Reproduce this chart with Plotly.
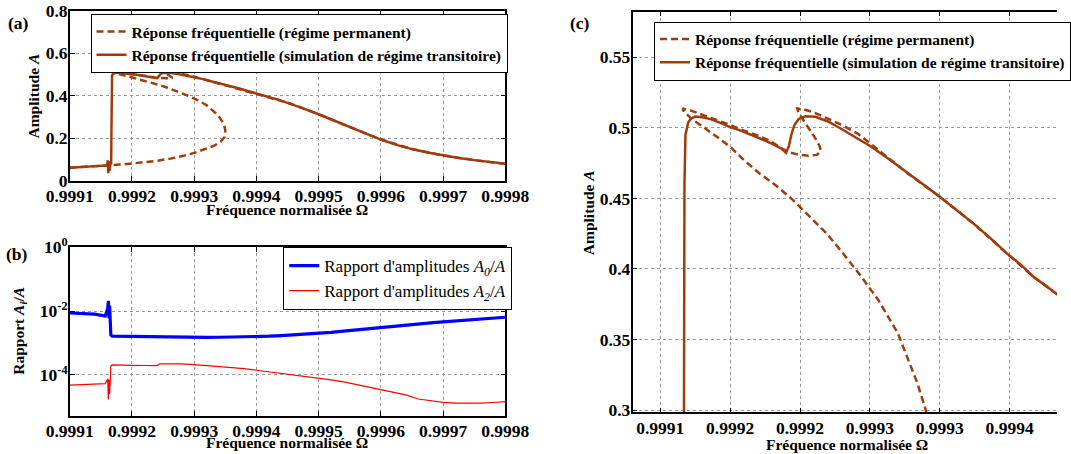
import plotly.graph_objects as go

# ---------------- data ----------------
# transient-simulation frequency response (solid)
omega_trans = [0.999100, 0.999120, 0.999140, 0.999155, 0.999160, 0.999161, 0.999162, 0.999163,
               0.999164, 0.999165, 0.9991665, 0.999167, 0.9991673, 0.999168, 0.999170, 0.999172,
               0.999175, 0.999180, 0.999186, 0.999193, 0.999200, 0.999208, 0.999216, 0.999225,
               0.999232, 0.999237, 0.999240, 0.999242, 0.999244, 0.999246, 0.999249, 0.999254,
               0.999261, 0.999270, 0.999280, 0.999290, 0.999301, 0.999314, 0.999327, 0.999338,
               0.999350, 0.999362, 0.999374, 0.999386, 0.999398, 0.999408, 0.999417, 0.999426,
               0.999434, 0.999450, 0.999475, 0.999500, 0.999525, 0.999550, 0.999575, 0.999600,
               0.999625, 0.999650, 0.999675, 0.999700, 0.999725, 0.999750, 0.999775, 0.999800]
ampl_trans = [0.060, 0.063, 0.066, 0.069, 0.071, 0.095, 0.035, 0.090,
              0.045, 0.075, 0.080, 0.250, 0.460, 0.495, 0.504, 0.5066,
              0.508, 0.5075, 0.5062, 0.5035, 0.5005, 0.4978, 0.4948, 0.4910,
              0.4878, 0.4850, 0.4823, 0.4870, 0.4960, 0.5020, 0.5062, 0.5082,
              0.5078, 0.5045, 0.4990, 0.4930, 0.4866, 0.4775, 0.4677, 0.4600,
              0.4512, 0.4420, 0.4323, 0.4220, 0.4110, 0.4030, 0.3945, 0.3880,
              0.3820, 0.3670, 0.3400, 0.3120, 0.2820, 0.2520, 0.2220, 0.1930,
              0.1680, 0.1480, 0.1320, 0.1180, 0.1060, 0.0960, 0.0870, 0.0790]

# steady-state frequency response (dashed)
omega_perm = [0.99910, 0.99912, 0.99914, 0.99916, 0.99918, 0.99920, 0.99922, 0.99924,
              0.99926, 0.99928, 0.99930, 0.99932, 0.999333, 0.999343, 0.999349, 0.999350,
              0.999348, 0.999340, 0.999334, 0.999320, 0.999306, 0.999292, 0.999280, 0.999269,
              0.999257, 0.999245, 0.999233, 0.999221, 0.999210, 0.999200, 0.999190, 0.999181,
              0.999173, 0.999167, 0.999166, 0.999172, 0.999181, 0.999190, 0.999200, 0.999210,
              0.999219, 0.999228, 0.999235, 0.999241, 0.999248, 0.999256, 0.999262, 0.999265,
              0.999264, 0.999261, 0.999257, 0.999253, 0.999249, 0.999248, 0.999253, 0.999259,
              0.999265, 0.999270, 0.999280, 0.999292, 0.999300, 0.999314, 0.999327, 0.999350,
              0.999374, 0.999398, 0.999417, 0.999434, 0.999450, 0.999475, 0.999500, 0.999550,
              0.999600, 0.999650, 0.999700, 0.999750, 0.999800]
ampl_perm = [0.060, 0.063, 0.066, 0.070, 0.075, 0.080, 0.086, 0.093,
             0.102, 0.114, 0.130, 0.150, 0.165, 0.185, 0.205, 0.235,
             0.265, 0.300, 0.319, 0.3545, 0.378, 0.397, 0.412, 0.4252,
             0.437, 0.4488, 0.459, 0.4677, 0.477, 0.4866, 0.494, 0.5007,
             0.506, 0.5113, 0.5137, 0.5122, 0.509, 0.5055, 0.502, 0.498,
             0.4948, 0.491, 0.487, 0.4830, 0.4812, 0.4802, 0.4808, 0.4835,
             0.4870, 0.4925, 0.4985, 0.5050, 0.5105, 0.5137, 0.5130, 0.5113,
             0.5088, 0.5066, 0.5020, 0.4955, 0.4890, 0.4780, 0.4677, 0.4512,
             0.4323, 0.4110, 0.3945, 0.3820, 0.3670, 0.3400, 0.3120, 0.2520,
             0.1930, 0.1480, 0.1180, 0.0960, 0.0790]

# amplitude ratios (panel b)
omega_ratio = [0.99910, 0.99912, 0.99914, 0.999157, 0.999161, 0.999162, 0.999163, 0.999164,
               0.999165, 0.999166, 0.999168, 0.99918, 0.99920, 0.99922, 0.99924, 0.999245,
               0.99926, 0.99928, 0.99930, 0.99932, 0.99934, 0.99936, 0.99938, 0.99940,
               0.99942, 0.99944, 0.99946, 0.99948, 0.99950, 0.99952, 0.99954, 0.99956,
               0.99958, 0.99960, 0.99962, 0.99964, 0.99966, 0.99968, 0.99970, 0.99972,
               0.99974, 0.99976, 0.99978, 0.99980]
ratio_A0 = [0.0087, 0.0084, 0.0080, 0.0070, 0.012, 0.021, 0.006, 0.015,
            0.005, 0.0018, 0.00165, 0.00163, 0.00160, 0.00158, 0.00156, 0.00155,
            0.00152, 0.00150, 0.00150, 0.00150, 0.00151, 0.00152, 0.00154, 0.00158,
            0.00163, 0.00170, 0.00178, 0.00188, 0.00200, 0.00216, 0.00236, 0.00258,
            0.00283, 0.00310, 0.00338, 0.00366, 0.00395, 0.00425, 0.00457, 0.00490,
            0.00524, 0.00559, 0.00596, 0.00640]
ratio_A2 = [4.8e-5, 5.0e-5, 5.1e-5, 5.3e-5, 7.5e-5, 1.7e-5, 7.0e-5, 2.5e-5,
            6.0e-5, 1.9e-4, 2.05e-4, 2.0e-4, 1.98e-4, 1.97e-4, 1.96e-4, 2.2e-4,
            2.22e-4, 2.2e-4, 2.1e-4, 1.98e-4, 1.85e-4, 1.72e-4, 1.58e-4, 1.40e-4,
            1.25e-4, 1.12e-4, 1.00e-4, 9.0e-5, 8.0e-5, 7.0e-5, 6.0e-5, 5.0e-5,
            4.2e-5, 3.5e-5, 2.9e-5, 2.35e-5, 1.75e-5, 1.55e-5, 1.38e-5, 1.3e-5,
            1.28e-5, 1.3e-5, 1.36e-5, 1.45e-5]

# tick labels
ticks_ab = [0.9991, 0.9992, 0.9993, 0.9994, 0.9995, 0.9996, 0.9997, 0.9998]
ticks_ab_text = ["0.9991", "0.9992", "0.9993", "0.9994", "0.9995", "0.9996", "0.9997", "0.9998"]
ticks_a_y = [0, 0.2, 0.4, 0.6, 0.8]
ticks_a_y_text = ["0", "0.2", "0.4", "0.6", "0.8"]
ticks_b_y = [1e-4, 1e-2, 1]
ticks_b_y_text = ["10<sup>-4</sup>", "10<sup>-2</sup>", "10<sup>0</sup>"]
ticks_c_x = [0.99915, 0.99920, 0.99925, 0.99930, 0.99935, 0.99940]
ticks_c_x_text = ["0.9991", "0.9992", "0.9992", "0.9993", "0.9993", "0.9994"]
ticks_c_y = [0.30, 0.35, 0.40, 0.45, 0.50, 0.55]
ticks_c_y_text = ["0.3", "0.35", "0.4", "0.45", "0.5", "0.55"]

# ---------------- styling ----------------
W, H = 1071, 454
FONT = "Times New Roman, Liberation Serif, serif"
BROWN = "#a03c0c"

def px_x(p):
    return p / W

def px_y(p):
    return 1 - p / H

lbl_perm = "<b>Réponse fréquentielle (régime permanent)</b>"
lbl_trans = "<b>Réponse fréquentielle (simulation de régime transitoire)</b>"

fig = go.Figure()
# panel (a)
fig.add_trace(go.Scatter(x=omega_perm, y=ampl_perm, mode="lines", name=lbl_perm,
                         line=dict(color=BROWN, width=2.5, dash="7px,4px"),
                         xaxis="x", yaxis="y", legend="legend"))
fig.add_trace(go.Scatter(x=omega_trans, y=ampl_trans, mode="lines", name=lbl_trans,
                         line=dict(color=BROWN, width=2.5),
                         xaxis="x", yaxis="y", legend="legend"))
# panel (b)
fig.add_trace(go.Scatter(x=omega_ratio, y=ratio_A0, mode="lines",
                         name="Rapport d'amplitudes <i>A<sub>0</sub></i>/<i>A</i>",
                         line=dict(color="#0000ff", width=3.2),
                         xaxis="x2", yaxis="y2", legend="legend2"))
fig.add_trace(go.Scatter(x=omega_ratio, y=ratio_A2, mode="lines",
                         name="Rapport d'amplitudes <i>A<sub>2</sub></i>/<i>A</i>",
                         line=dict(color="#ff0000", width=1.2),
                         xaxis="x2", yaxis="y2", legend="legend2"))
# panel (c)
fig.add_trace(go.Scatter(x=omega_perm, y=ampl_perm, mode="lines", name=lbl_perm,
                         line=dict(color=BROWN, width=2.5, dash="7px,4px"),
                         xaxis="x3", yaxis="y3", legend="legend3"))
fig.add_trace(go.Scatter(x=omega_trans, y=ampl_trans, mode="lines", name=lbl_trans,
                         line=dict(color=BROWN, width=2.5),
                         xaxis="x3", yaxis="y3", legend="legend3"))

tickfont = dict(family=FONT, size=17.5, color="black")
common = dict(showline=True, linecolor="black", linewidth=1.5, ticks="inside", ticklen=5,
              tickcolor="black", tickwidth=1, showgrid=True, gridcolor="#9a9a9a",
              griddash="dot", gridwidth=1, zeroline=False, tickfont=tickfont,
              automargin=False)

def bold(lst):
    return ["<b>%s</b>" % t for t in lst]

dom_ab_x = [px_x(70.7), px_x(512)]
fig.update_layout(
    width=W, height=H,
    margin=dict(l=0, r=0, t=0, b=0),
    paper_bgcolor="white", plot_bgcolor="white",
    showlegend=True,
    xaxis=dict(domain=dom_ab_x, anchor="y", range=[0.9991, 0.9998],
               tickvals=ticks_ab, ticktext=bold(ticks_ab_text), mirror="ticks",
               ticklabelstandoff=-1, **common),
    yaxis=dict(domain=[px_y(180.5), px_y(10.7)], anchor="x", range=[0, 0.8],
               tickvals=ticks_a_y, ticktext=bold(ticks_a_y_text), mirror="ticks",
               ticklabelstandoff=-3, **common),
    xaxis2=dict(domain=dom_ab_x, anchor="y2", range=[0.9991, 0.9998],
                tickvals=ticks_ab, ticktext=bold(ticks_ab_text), mirror="ticks",
                ticklabelstandoff=-1, **common),
    yaxis2=dict(domain=[px_y(415.7), px_y(247.3)], anchor="x2", type="log", range=[-5.28, 0],
                tickvals=ticks_b_y, ticktext=bold(ticks_b_y_text), mirror="ticks",
                ticklabelstandoff=-3, **common),
    xaxis3=dict(domain=[px_x(641), 1.0], anchor="y3", range=[0.9991302, 0.9994339],
                tickvals=ticks_c_x, ticktext=bold(ticks_c_x_text), mirror="ticks",
                ticklabelstandoff=-1, **common),
    yaxis3=dict(domain=[px_y(412.3), px_y(11.7)], anchor="x3", range=[0.2984, 0.5823],
                tickvals=ticks_c_y, ticktext=bold(ticks_c_y_text), mirror=False,
                ticklabelstandoff=-3, **common),
    legend=dict(x=px_x(91.7), y=px_y(14), xanchor="left", yanchor="top",
                bgcolor="white", bordercolor="black", borderwidth=1,
                font=dict(family=FONT, size=15.5, color="black")),
    legend2=dict(x=px_x(287), y=px_y(247), xanchor="left", yanchor="top",
                 bgcolor="white", bordercolor="black", borderwidth=1,
                 font=dict(family=FONT, size=17, color="black")),
    legend3=dict(x=px_x(662.7), y=px_y(21.5), xanchor="left", yanchor="top",
                 bgcolor="white", bordercolor="black", borderwidth=1,
                 font=dict(family=FONT, size=15.5, color="black")),
)

def ann(text, x, y, size=15.5, angle=0):
    fig.add_annotation(text="<b>%s</b>" % text, x=px_x(x), y=px_y(y),
                       xref="paper", yref="paper",
                       showarrow=False, textangle=angle, xanchor="center", yanchor="middle",
                       font=dict(family=FONT, size=size, color="black"))

xtitle = "Fréquence normalisée Ω"
ann(xtitle, 291, 209)
ann(xtitle, 291, 442)
ann(xtitle, 858, 444)
ann("Amplitude <i>A</i>", 34, 96, angle=-90)
ann("Rapport <i>A<sub>i</sub></i>/<i>A</i>", 19, 331, angle=-90)
ann("Amplitude <i>A</i>", 596, 213, angle=-90)
ann("(a)", 19, 23, size=17.5)
ann("(b)", 17, 254, size=17.5)
ann("(c)", 588, 23, size=17.5)

fig.write_html("out.html", config={"displayModeBar": False},
               post_script="document.body.style.margin='0';document.body.style.overflow='hidden';")
